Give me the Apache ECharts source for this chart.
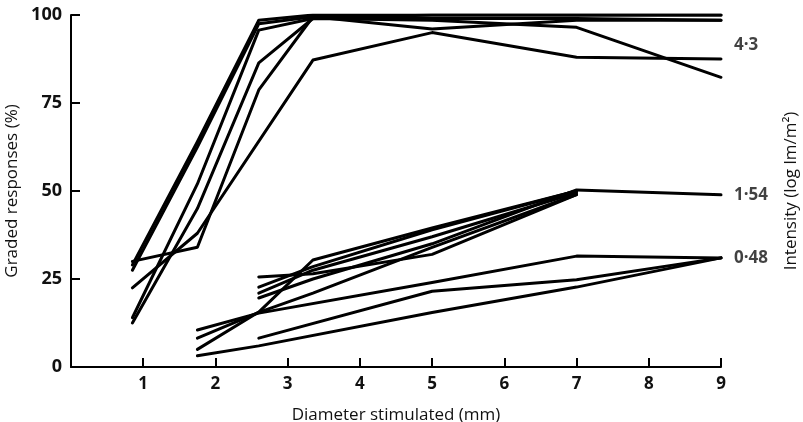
<!DOCTYPE html>
<html><head><meta charset="utf-8">
<script src="https://cdn.jsdelivr.net/npm/echarts@6/dist/echarts.min.js"></script>
<style>html,body{margin:0;padding:0;background:#fff}#c{width:803px;height:422px}</style>
</head><body><div id="c"></div>
<script>
// x positions are diameters (mm); each series is a list of [diameter, graded response %]
const high1 = [[0.85,29],[1.75,64],[2.6,98.5],[3.35,100],[5,100],[7,100],[9,100]];
const high2 = [[0.85,27.5],[1.75,62.5],[2.6,97.5],[3.35,99.5],[5,99],[7,99],[9,98.5]];
const high3 = [[0.85,14],[1.75,52],[2.6,95.7],[3.35,99],[5,98.5],[7,96.5],[9,82.3]];
const high4 = [[0.85,12.5],[1.75,45],[2.6,86.4],[3.35,99],[5,100],[7,100],[9,100]];
const high5 = [[0.85,30],[1.75,34],[2.6,78.7],[3.35,99.5],[5,96],[7,98.5],[9,98.5]];
const high6 = [[0.85,22.5],[1.75,38],[3.35,87.2],[5,95],[7,88],[9,87.5]];
const mid1 = [[2.6,25.6],[3.35,26.5],[5,32],[7,49]];
const mid2 = [[2.6,22.7],[3.35,28.5],[5,39],[7,50]];
const mid3 = [[2.6,21],[3.35,27.5],[5,37],[7,49.5]];
const mid4 = [[2.6,19.6],[3.35,25],[5,35],[7,50.3],[9,48.9]];
const mid5 = [[1.75,5],[2.6,15.6],[3.35,30.4],[5,39.5],[7,50]];
const mid6 = [[1.75,8.2],[2.6,15.5],[3.35,21],[5,34],[7,49]];
const low1 = [[1.75,10.5],[2.6,15.3],[5,24],[7,31.5],[9,31]];
const low2 = [[2.6,8.2],[5,21.5],[7,24.8],[9,31]];
const low3 = [[1.75,3.2],[2.6,6],[5,15.5],[7,22.7],[9,31]];
const allLines = [high1,high2,high3,high4,high5,high6,mid1,mid2,mid3,mid4,mid5,mid6,low1,low2,low3];
// intensity labels (log lm/m^2) placed at the right end
const intensityLabels = ['4·3','1·54','0·48'];
const intensityLevels = [91.5, 48.9, 31];
const xTicks = [1,2,3,4,5,6,7,8,9];
const yTicks = [0,25,50,75,100];

const FONT = '"Open Sans", "DejaVu Sans", sans-serif';
const chart = echarts.init(document.getElementById('c'), null, {renderer:'canvas'});
const series = allLines.map(d => ({
  type:'line', data:d, symbol:'none', silent:true,
  lineStyle:{color:'#000', width:3, cap:'round', join:'round'}
}));
series.push({
  type:'scatter', symbolSize:0, silent:true,
  data: intensityLabels.map((t,i)=>({value:[9,intensityLevels[i]], name:t})),
  label:{show:true, position:'right', distance:13, formatter:p=>p.name,
         fontFamily:FONT, fontSize:17, fontWeight:'bold', color:'#111'}
});
chart.setOption({
  animation:false,
  backgroundColor:'#fff',
  grid:{left:71, right:82, top:15, bottom:55, containLabel:false, outerBoundsMode:'none'},
  xAxis:{type:'value', min:0, max:9, interval:1,
    name:'Diameter stimulated (mm)', nameLocation:'middle', nameGap:40,
    nameTextStyle:{fontFamily:FONT, fontSize:17, fontWeight:500, color:'#111'},
    axisLine:{lineStyle:{color:'#000', width:2}},
    axisTick:{inside:true, length:9, lineStyle:{color:'#000', width:2}},
    axisLabel:{margin:9, fontFamily:FONT, fontSize:17, fontWeight:'bold', color:'#111',
      formatter:v=> xTicks.includes(v) ? String(v) : ''},
    splitLine:{show:false}},
  yAxis:[{type:'value', min:0, max:100, interval:25,
    name:'Graded responses (%)', nameLocation:'middle', nameGap:50, nameRotate:90,
    nameTextStyle:{fontFamily:FONT, fontSize:17, fontWeight:500, color:'#111'},
    axisLine:{show:true, lineStyle:{color:'#000', width:2}},
    axisTick:{show:true, inside:true, length:9, lineStyle:{color:'#000', width:2}},
    axisLabel:{margin:9, fontFamily:FONT, fontSize:18, fontWeight:'bold', color:'#111',
      formatter:v=> yTicks.includes(v) ? String(v) : ''},
    splitLine:{show:false}},
   {type:'value', min:0, max:100, interval:25, position:'right',
    name:'Intensity (log lm/m²)', nameLocation:'middle', nameGap:62, nameRotate:90,
    nameTextStyle:{fontFamily:FONT, fontSize:17, fontWeight:500, color:'#111'},
    axisLine:{show:false}, axisTick:{show:false}, axisLabel:{show:false}, splitLine:{show:false}}],
  series:series
});
</script></body></html>
